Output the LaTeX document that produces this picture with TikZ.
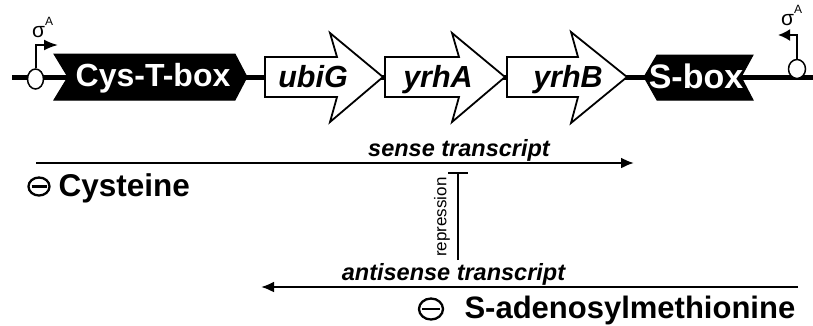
\documentclass[tikz,border=0pt]{standalone}
\usepackage{fontspec}
\setmainfont{Liberation Sans}
\usetikzlibrary{arrows.meta,shapes.geometric}
\tikzset{
  dna/.style={line width=5pt},
  blackbox/.style={fill=black, draw=black, line width=1pt, line join=miter},
  gene/.style={fill=white, draw=black, line width=1.8pt, line join=miter},
  promline/.style={line width=2pt},
  promcirc/.style={ellipse, draw=black, fill=white, line width=1.5pt, inner sep=0pt},
  transcript/.style={line width=2.2pt, -{Latex[length=13pt,width=11pt]}},
  boxtext/.style={anchor=base, text=white, font=\fontsize{32}{32}\selectfont\bfseries},
  genetext/.style={anchor=base, font=\fontsize{30.5}{30}\selectfont\bfseries\itshape},
  trtext/.style={anchor=base, font=\fontsize{23.5}{24}\selectfont\bfseries\itshape},
  ligtext/.style={anchor=base west, font=\fontsize{31.5}{32}\selectfont\bfseries},
  minusline/.style={line width=2.3pt},
  sigmatext/.style={font=\fontsize{21}{21}\selectfont, inner sep=0pt},
}
\newcommand{\sigA}{σ\raisebox{0.55em}{\fontsize{12}{12}\selectfont A}}
\begin{document}
\begin{tikzpicture}[x=1pt, y=-1pt]
\useasboundingbox (0,0) rectangle (813,325);
% DNA line
\coordinate (dnaL) at (12,77);
\coordinate (dnaR) at (813,77);
\draw[dna] (dnaL) -- (dnaR);
% Cys-T-box
\draw[blackbox] (54,54) -- (235,54) -- (247,77) -- (235,100) -- (54,100) -- (68,77) -- cycle;
\node[boxtext] (cys) at (153,86) {Cys-T-box};
% genes
\draw[gene] (265,57) -- (337,57) -- (330,33) -- (383,77) -- (330,122) -- (337,97) -- (265,97) -- cycle;
\node[genetext] (ubig) at (313,87) {ubiG};
\draw[gene] (385,57) -- (459,57) -- (452,33) -- (505,77) -- (452,122) -- (459,97) -- (385,97) -- cycle;
\node[genetext] (yrha) at (438,87) {yrhA};
\draw[gene] (507,57) -- (578,57) -- (571,32) -- (627,77) -- (571,123) -- (578,97) -- (507,97) -- cycle;
\node[genetext] (yrhb) at (568,87) {yrhB};
% S-box
\draw[blackbox] (644,77) -- (657,55) -- (753,55) -- (741,77) -- (753,100) -- (657,100) -- cycle;
\node[boxtext, font=\fontsize{34}{34}\selectfont\bfseries] (sbox) at (696,88) {S-box};
% left promoter
\node[promcirc, minimum width=16pt, minimum height=20pt] (pL) at (35.5,79) {};
\coordinate (pLc) at (35.5,45);
\coordinate (pLt) at (58,45);
\draw[promline, -{Latex[length=14pt,width=11pt]}] (pL.north) -- (pLc) -- (pLt);
\node[sigmatext, anchor=base west] (sigL) at (32,37) {\sigA};
% right promoter
\node[promcirc, minimum width=17pt, minimum height=19pt] (pR) at (797,69) {};
\coordinate (pRc) at (797,35);
\coordinate (pRt) at (778,35);
\draw[promline, -{Latex[length=12pt,width=12pt]}] (pR.north) -- (pRc) -- (pRt);
\node[sigmatext, anchor=base west] (sigR) at (781,25.5) {\sigA};
% sense transcript
\coordinate (sL) at (36,163);
\coordinate (sR) at (634,163);
\draw[transcript] (sL) -- (sR);
\node[trtext] (sense) at (459,156) {sense transcript};
% antisense transcript
\coordinate (aR) at (798,287);
\coordinate (aL) at (261,287);
\draw[transcript] (aR) -- (aL);
\node[trtext] (anti) at (453.5,280) {antisense transcript};
% repression
\coordinate (rb) at (458,260);
\coordinate (rt) at (458,172);
\draw[line width=2pt, -{Bar[width=20pt,line width=2pt]}] (rb) -- (rt);
\node[rotate=90, font=\fontsize{17}{17}\selectfont] (rep) at (442,217) {repression};
% Cysteine
\coordinate (m1) at (39,186.5);
\draw[minusline] (m1) ellipse [x radius=10.5, y radius=9];
\draw[minusline] ([xshift=-7.5pt]m1) -- ([xshift=7.5pt]m1);
\node[ligtext] (cyst) at (55,196) {Cysteine};
% SAM
\coordinate (m2) at (431,309);
\draw[minusline] (m2) ellipse [x radius=12, y radius=10.5];
\draw[minusline] ([xshift=-9pt]m2) -- ([xshift=9pt]m2);
\node[ligtext, font=\fontsize{31}{32}\selectfont\bfseries] (sam) at (461,318.5) {S-adenosylmethionine};
\end{tikzpicture}
\end{document}
